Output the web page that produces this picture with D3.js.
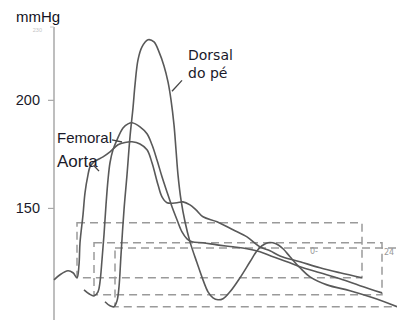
<!DOCTYPE html>
<html lang="pt">
<head>
  <meta charset="UTF-8">
  <script src="https://d3js.org/d3.v7.min.js"></script>
  <title>Pulso arterial</title>
  <style>
    body { margin: 0; background: #fff; }
    svg { display: block; }
  </style>
</head>
<body>
  <svg id="chart" width="397" height="320"></svg>
  <script>
    // pressure (mmHg) over time (ms) for each site
    const aorta = [
      [0, 116.7], [6, 119.1], [14, 120.9], [19, 120.0], [23, 117.7], [25, 123.7], [26, 133.9],
      [29, 146.8], [31, 157.0], [34, 165.3], [36, 169.0], [40, 171.3], [43, 172.2], [49, 173.6],
      [56, 175.9], [64, 179.2], [71, 180.3], [78, 180.6], [86, 179.6], [93, 176.9], [98, 170.9],
      [104, 160.7], [108, 155.1], [113, 152.4], [123, 152.4], [129, 152.8], [136, 151.4],
      [142, 149.1], [149, 145.9], [163, 143.6], [179, 139.9], [193, 136.6], [206, 132.0],
      [216, 130.2], [226, 127.8], [246, 125.1], [266, 122.3], [286, 120.0], [308, 117.7]
    ];
    const femoral = [
      [30, 112.1], [35, 110.3], [40, 109.3], [44, 111.2], [46, 115.8], [48, 126.0], [50, 137.6],
      [52, 151.4], [54, 163.0], [56, 170.9], [59, 176.9], [63, 181.5], [69, 187.0], [74, 188.9],
      [78, 189.4], [86, 187.5], [93, 184.3], [98, 179.2], [103, 172.2], [108, 164.4], [113, 157.4],
      [118, 150.5], [123, 144.5], [128, 138.9], [133, 135.7], [138, 134.3], [149, 133.9],
      [163, 132.9], [179, 132.0], [193, 131.1], [206, 129.7], [219, 127.4], [233, 125.1],
      [246, 122.8], [266, 120.0], [286, 117.2], [306, 114.0], [328, 110.7]
    ];
    const dorsal = [
      [51, 106.6], [56, 104.7], [60, 104.3], [63, 107.0], [65, 113.5], [67, 128.3], [70, 149.1],
      [73, 165.3], [76, 182.9], [79, 196.3], [81, 206.9], [84, 218.5], [88, 224.5], [94, 227.8],
      [100, 226.8], [105, 222.2], [110, 215.7], [114, 208.3], [117, 200.0], [120, 188.4],
      [122, 176.9], [124, 165.3], [127, 153.7], [131, 143.6], [136, 134.3], [143, 124.6],
      [149, 116.7], [154, 111.2], [159, 108.4], [164, 107.5], [169, 108.0], [176, 111.2],
      [186, 117.7], [196, 125.1], [203, 130.2], [208, 132.5], [214, 133.9], [222, 133.4],
      [229, 131.1], [236, 127.4], [246, 122.3], [256, 118.1], [273, 114.4], [296, 111.7],
      [319, 108.4], [343, 104.3]
    ];

    // dashed timing boxes: [start ms, end ms, top mmHg, bottom mmHg]
    const boxes = [
      [23, 308, 143.1, 117.7],
      [40, 328, 133.9, 109.8],
      [61, 352, 131.5, 104.3]
    ];

    const yTicks = [150, 200];
    const topTickLabel = '230';

    const svg = d3.select('#chart');
    const x = d3.scaleLinear().domain([0, 343]).range([54, 397]);
    const y = d3.scaleLinear().domain([100, 230]).range([316, 35]);

    // y axis
    svg.append('line')
      .attr('x1', x(0)).attr('x2', x(0))
      .attr('y1', y(233.7)).attr('y2', 320)
      .attr('stroke', '#a8a8a8')
      .attr('stroke-width', 1.5);

    const axis = svg.append('g')
      .attr('transform', `translate(${x(0)},0)`)
      .call(d3.axisLeft(y).tickValues(yTicks).tickSize(6).tickPadding(8).tickSizeOuter(0));
    axis.select('.domain').remove();
    axis.selectAll('.tick line').attr('stroke', '#a8a8a8').attr('stroke-width', 1.2);
    axis.selectAll('.tick text')
      .attr('font-family', 'Liberation Sans, Arial, sans-serif')
      .attr('font-size', 14.5)
      .attr('fill', '#1a1a2a');

    // faint top label
    svg.append('line')
      .attr('x1', x(0) - 4).attr('x2', x(0))
      .attr('y1', y(233.7)).attr('y2', y(233.7))
      .attr('stroke', '#c8c8c8');
    svg.append('text')
      .attr('x', x(0) - 12).attr('y', 32)
      .attr('text-anchor', 'end')
      .attr('font-family', 'Liberation Sans, Arial, sans-serif')
      .attr('font-size', 5.5)
      .attr('fill', '#c4c4c4')
      .text(topTickLabel);

    svg.append('text')
      .attr('x', 16).attr('y', 22)
      .attr('font-family', 'Liberation Sans, Arial, sans-serif')
      .attr('font-size', 15)
      .attr('fill', '#111122')
      .text('mmHg');

    // dashed boxes
    svg.append('g').selectAll('rect')
      .data(boxes)
      .enter()
      .append('rect')
      .attr('x', d => x(d[0]))
      .attr('y', d => y(d[2]))
      .attr('width', d => x(d[1]) - x(d[0]))
      .attr('height', d => y(d[3]) - y(d[2]))
      .attr('fill', 'none')
      .attr('stroke', '#9a9a9a')
      .attr('stroke-width', 1.5)
      .attr('stroke-dasharray', '8,5');

    // waveforms
    const line = d3.line()
      .x(d => x(d[0]))
      .y(d => y(d[1]))
      .curve(d3.curveCatmullRom.alpha(0.5));

    svg.append('g').selectAll('path')
      .data([aorta, femoral, dorsal])
      .enter()
      .append('path')
      .attr('d', line)
      .attr('fill', 'none')
      .attr('stroke', '#595959')
      .attr('stroke-width', 1.6);

    // labels with leader lines (ms / mmHg)
    const labels = [
      { text: 'Femoral', t: 3, p: 180, size: 15, font: 'Liberation Sans, Arial, sans-serif', lead: [[58, 181.5], [68, 180.5]] },
      { text: 'Aorta', t: 3, p: 169, size: 17, font: 'Liberation Sans, Arial, sans-serif', lead: [[40, 169.5], [45, 167]] },
      { text: 'Dorsal', t: 134, p: 218.5, size: 14, font: 'DejaVu Sans, sans-serif', lead: [[128, 209], [118, 204]] },
      { text: 'do pé', t: 134, p: 210, size: 14, font: 'DejaVu Sans, sans-serif', lead: null }
    ];

    labels.forEach(l => {
      svg.append('text')
        .attr('x', x(l.t)).attr('y', y(l.p))
        .attr('font-family', l.font)
        .attr('font-size', l.size)
        .attr('fill', '#1a1a2a')
        .text(l.text);
      if (l.lead) {
        svg.append('line')
          .attr('x1', x(l.lead[0][0])).attr('y1', y(l.lead[0][1]))
          .attr('x2', x(l.lead[1][0])).attr('y2', y(l.lead[1][1]))
          .attr('stroke', '#444')
          .attr('stroke-width', 1.3);
      }
    });

    // small marks near the box ends
    svg.append('text')
      .attr('x', x(256)).attr('y', y(128.5))
      .attr('font-family', 'DejaVu Sans, sans-serif')
      .attr('font-size', 8)
      .attr('fill', '#999')
      .text('0-');
    svg.append('text')
      .attr('x', x(330)).attr('y', y(128))
      .attr('font-family', 'DejaVu Sans, sans-serif')
      .attr('font-size', 8)
      .attr('fill', '#999')
      .text('24');
  </script>
</body>
</html>
